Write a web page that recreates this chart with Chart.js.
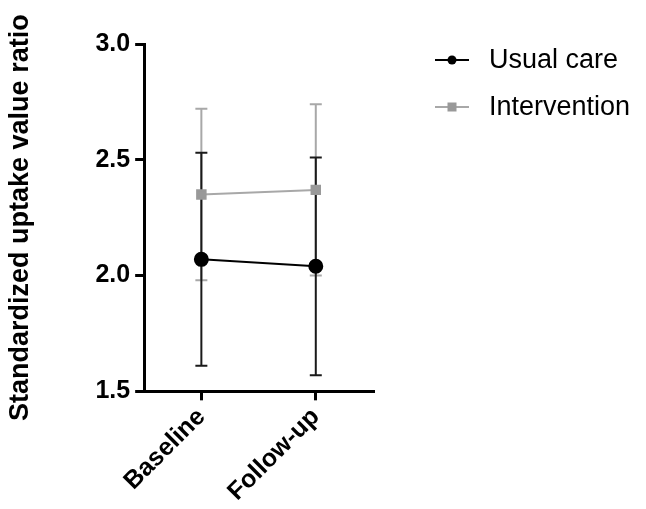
<!DOCTYPE html>
<html>
<head>
<meta charset="utf-8">
<script src="https://cdn.jsdelivr.net/npm/chart.js@4"></script>
<style>
  html, body { margin: 0; padding: 0; background: #fff; }
  #wrap { width: 646px; height: 509px; position: relative; }
</style>
</head>
<body>
<div id="wrap"><canvas id="chart"></canvas></div>
<script>
// data
const timepoints = ['Baseline', 'Follow-up'];
const seriesNames = ['Usual care', 'Intervention'];

const usualMean = [2.07, 2.04];
const usualLow = [1.61, 1.57];
const usualHigh = [2.53, 2.51];

const interMean = [2.35, 2.37];
const interLow = [1.98, 2.00];
const interHigh = [2.72, 2.74];

const yTicks = [1.5, 2.0, 2.5, 3.0];

const FONT = "'Liberation Sans', Arial, sans-serif";

// error bars drawn under the points
const errorBars = {
    id: 'errorBars',
    beforeDatasetsDraw(chart) {
        const ctx = chart.ctx;
        const y = chart.scales.y;
        // intervention first so usual care sits on top
        [1, 0].forEach(i => {
            const ds = chart.data.datasets[i];
            const meta = chart.getDatasetMeta(i);
            ctx.save();
            ctx.strokeStyle = ds.errorColor;
            ctx.lineWidth = 2;
            meta.data.forEach((pt, j) => {
                const top = y.getPixelForValue(ds.high[j]);
                const bot = y.getPixelForValue(ds.low[j]);
                ctx.beginPath();
                ctx.moveTo(pt.x, top); ctx.lineTo(pt.x, bot);
                ctx.moveTo(pt.x - 6, top); ctx.lineTo(pt.x + 6, top);
                ctx.moveTo(pt.x - 6, bot); ctx.lineTo(pt.x + 6, bot);
                ctx.stroke();
            });
            ctx.restore();
        });
    }
};

// legend at the right: short line with marker, then name
const sideLegend = {
    id: 'sideLegend',
    afterDraw(chart) {
        const ctx = chart.ctx;
        ctx.save();
        chart.data.datasets.forEach((ds, i) => {
            const cy = 60 + i * 47;
            ctx.strokeStyle = ds.borderColor;
            ctx.lineWidth = 2;
            ctx.beginPath();
            ctx.moveTo(435, cy); ctx.lineTo(469, cy);
            ctx.stroke();
            ctx.fillStyle = ds.pointBackgroundColor;
            if (ds.pointStyle === 'rect') {
                ctx.fillRect(452 - 4.5, cy - 4.5, 9, 9);
            } else {
                ctx.beginPath();
                ctx.arc(452, cy, 4.5, 0, Math.PI * 2);
                ctx.fill();
            }
            ctx.fillStyle = '#000';
            ctx.font = '27px ' + FONT;
            ctx.textBaseline = 'middle';
            ctx.fillText(ds.label, 489, cy + 1);
        });
        ctx.restore();
    }
};

new Chart(document.getElementById('chart'), {
    type: 'line',
    data: {
        labels: timepoints,
        datasets: [
            {
                label: seriesNames[0],
                data: usualMean,
                low: usualLow,
                high: usualHigh,
                errorColor: '#1a1a1a',
                borderColor: '#000',
                borderWidth: 2,
                pointStyle: 'circle',
                pointRadius: 6.5,
                pointBackgroundColor: '#000',
                pointBorderColor: '#000',
                order: 0
            },
            {
                label: seriesNames[1],
                data: interMean,
                low: interLow,
                high: interHigh,
                errorColor: '#a8a8a8',
                borderColor: '#a8a8a8',
                borderWidth: 2,
                pointStyle: 'rect',
                pointRadius: 6,
                pointBackgroundColor: '#999',
                pointBorderColor: '#999',
                order: 1
            }
        ]
    },
    options: {
        responsive: true,
        maintainAspectRatio: false,
        animation: false,
        layout: { padding: { left: 4, right: 273, top: 44, bottom: 0 } },
        plugins: {
            legend: { display: false },
            tooltip: { enabled: false }
        },
        scales: {
            x: {
                type: 'category',
                offset: true,
                grid: { display: true, drawOnChartArea: false, drawTicks: true, tickLength: 9, color: '#000', lineWidth: 3, offset: false },
                border: { color: '#000', width: 3 },
                ticks: {
                    color: '#000',
                    font: { family: FONT, size: 25, weight: 'bold' },
                    minRotation: 45,
                    maxRotation: 45,
                    padding: 2
                }
            },
            y: {
                min: 1.5,
                max: 3.0,
                afterBuildTicks: (scale) => { scale.ticks = yTicks.map(v => ({ value: v })); },
                grid: { display: true, drawOnChartArea: false, drawTicks: true, tickLength: 9, color: '#000', lineWidth: 3 },
                border: { color: '#000', width: 3 },
                ticks: {
                    color: '#000',
                    font: { family: FONT, size: 25, weight: 'bold' },
                    padding: 5,
                    callback: (v) => Number(v).toFixed(1)
                },
                title: {
                    display: true,
                    text: 'Standardized uptake value ratio',
                    color: '#000',
                    font: { family: FONT, size: 27, weight: 'bold' },
                    padding: { top: 0, bottom: 54 }
                }
            }
        }
    },
    plugins: [errorBars, sideLegend]
});
</script>
</body>
</html>
